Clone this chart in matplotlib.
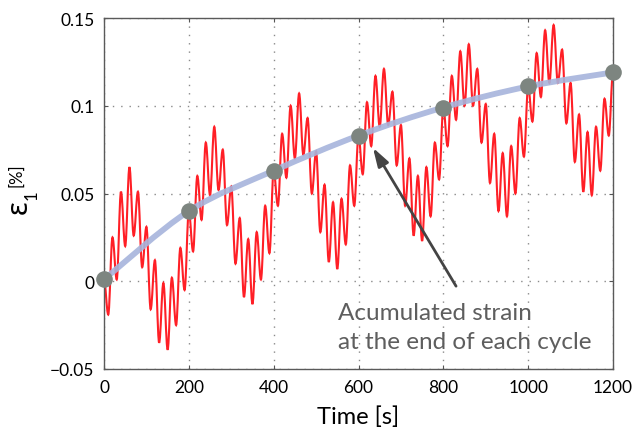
import matplotlib
matplotlib.use('Agg')
import matplotlib.pyplot as plt
from matplotlib.path import Path
from matplotlib.patches import PathPatch

# cycle boundaries and strain accumulated at the end of each cycle (gray dots)
cycle_time = [0, 200, 400, 600, 800, 1000, 1200]
cycle_strain = [0.001, 0.040, 0.063, 0.083, 0.099, 0.111, 0.119]

# extrema of the measured strain inside each cycle, every 10 s (t = 10 .. 190)
cycle1 = [-0.019, 0.025, 0.001, 0.051, 0.020, 0.065, 0.026, 0.051, 0.008, 0.031,
          -0.016, 0.012, -0.035, -0.001, -0.039, 0.002, -0.025, 0.019, -0.005]
cycle2 = [0.017, 0.060, 0.035, 0.079, 0.049, 0.088, 0.052, 0.075, 0.032, 0.054,
          0.010, 0.036, -0.009, 0.024, -0.013, 0.028, 0.001, 0.043, 0.016]
cycle3 = [0.043, 0.084, 0.059, 0.100, 0.070, 0.107, 0.072, 0.093, 0.050, 0.074,
          0.028, 0.055, 0.011, 0.045, 0.007, 0.047, 0.021, 0.066, 0.043]
cycle4 = [0.061, 0.102, 0.077, 0.117, 0.088, 0.121, 0.089, 0.108, 0.066, 0.089,
          0.043, 0.070, 0.026, 0.060, 0.023, 0.065, 0.037, 0.079, 0.058]
cycle5 = [0.077, 0.117, 0.092, 0.131, 0.100, 0.135, 0.100, 0.121, 0.079, 0.101,
          0.056, 0.084, 0.040, 0.073, 0.037, 0.077, 0.050, 0.093, 0.071]
cycle6 = [0.091, 0.130, 0.105, 0.143, 0.113, 0.146, 0.113, 0.132, 0.090, 0.113,
          0.068, 0.095, 0.051, 0.085, 0.049, 0.088, 0.063, 0.104, 0.083]
extrema_step = 10

xticks = [0, 200, 400, 600, 800, 1000, 1200]
yticks = [-0.05, 0, 0.05, 0.1, 0.15]
ytick_labels = ['\u22120.05', '0', '0.05', '0.1', '0.15']

RED = '#ff1f26'
BLUE = '#a6b4dc'
DOT = '#7d8580'

# assemble extrema sequence (t, value)
ext_t, ext_v = [], []
for c, vals in enumerate([cycle1, cycle2, cycle3, cycle4, cycle5, cycle6]):
    ext_t.append(cycle_time[c])
    ext_v.append(cycle_strain[c])
    for j, v in enumerate(vals):
        ext_t.append(cycle_time[c] + (j + 1) * extrema_step)
        ext_v.append(v)
ext_t.append(cycle_time[-1])
ext_v.append(cycle_strain[-1])

fig = plt.figure(figsize=(6.32, 4.31), dpi=100)
ax = fig.add_axes([104 / 632, 1 - 370 / 431, 509 / 632, 351 / 431])

# red signal: smooth half-waves between successive extrema (bezier segments)
a = 0.3634
verts = [(ext_t[0], ext_v[0])]
codes = [Path.MOVETO]
for i in range(len(ext_t) - 1):
    t0, v0, t1, v1 = ext_t[i], ext_v[i], ext_t[i + 1], ext_v[i + 1]
    dt = t1 - t0
    verts += [(t0 + a * dt, v0), (t1 - a * dt, v1), (t1, v1)]
    codes += [Path.CURVE4] * 3
ax.add_patch(PathPatch(Path(verts, codes), fill=False, edgecolor=RED, lw=1.5,
                       zorder=2))

# blue trend through the cycle-end points (Catmull-Rom as bezier)
pts = list(zip(cycle_time, cycle_strain))
bverts = [pts[0]]
bcodes = [Path.MOVETO]
for i in range(len(pts) - 1):
    p0 = pts[max(i - 1, 0)]
    p1 = pts[i]
    p2 = pts[i + 1]
    p3 = pts[min(i + 2, len(pts) - 1)]
    c1 = (p1[0] + (p2[0] - p0[0]) / 6, p1[1] + (p2[1] - p0[1]) / 6)
    c2 = (p2[0] - (p3[0] - p1[0]) / 6, p2[1] - (p3[1] - p1[1]) / 6)
    bverts += [c1, c2, p2]
    bcodes += [Path.CURVE4] * 3
ax.add_patch(PathPatch(Path(bverts, bcodes), fill=False, edgecolor=BLUE, lw=4.2,
                       alpha=0.9, capstyle='round', zorder=3))

ax.plot(cycle_time, cycle_strain, 'o', color=DOT, ms=12, mec='none', zorder=4,
        clip_on=False)

ax.set_xlim(0, 1200)
ax.set_ylim(-0.05, 0.15)
ax.set_xticks(xticks)
ax.set_xticklabels([str(x) for x in xticks])
ax.set_yticks(yticks)
ax.set_yticklabels(ytick_labels)
ax.tick_params(direction='in', length=3, width=0.8, color='#555', top=True,
               right=True, labelsize=12.5, pad=7)
for lab in ax.get_xticklabels() + ax.get_yticklabels():
    lab.set_family('Lato')
for s in ax.spines.values():
    s.set_color('#5a5a5a')
    s.set_linewidth(1.0)
ax.set_axisbelow(True)
ax.grid(True, color='#8a8a8a', lw=1.0, linestyle=(0, (1, 5)))

ax.set_xlabel('Time [s]', fontsize=17, family='Lato', labelpad=8)

# y label pieces: epsilon, subscript 1, [%]
fig.text(19 / 632, 1 - 207 / 431, '\u03b5', rotation=90, fontsize=21,
         family='Noto Sans', ha='center', va='center')
fig.text(32 / 632, 1 - 195 / 431, '1', rotation=90, fontsize=12,
         family='Lato', ha='center', va='center')
fig.text(16 / 632, 1 - 175 / 431, '[%]', rotation=90, fontsize=12,
         family='Lato', ha='center', va='center')

ax.annotate('', xy=(634, 0.0761), xytext=(830, -0.0028),
            arrowprops=dict(arrowstyle='-|>,head_length=0.8,head_width=0.25',
                            color='#444', lw=2, mutation_scale=14,
                            shrinkA=0, shrinkB=0), zorder=5)
ax.text(552, -0.0118, 'Acumulated strain\nat the end of each cycle',
        fontsize=17.5, color='#5e5e5e', family='Lato', va='top',
        linespacing=1.5, zorder=5)

fig.savefig('out.png', dpi=100, facecolor='white')
